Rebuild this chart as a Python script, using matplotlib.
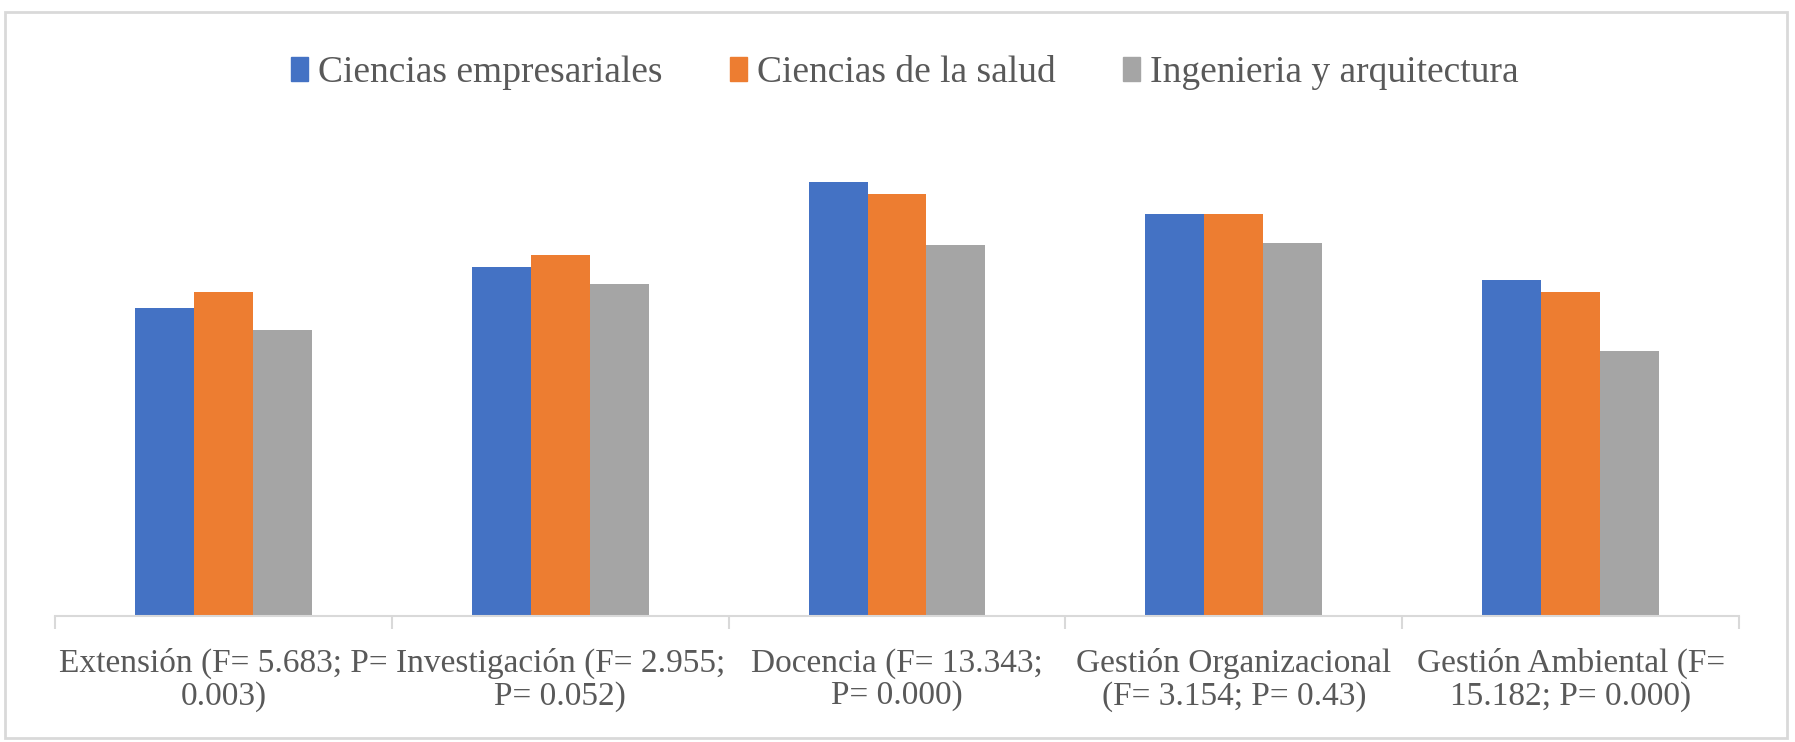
import matplotlib
matplotlib.use("Agg")
import matplotlib.pyplot as plt
import matplotlib.patches as mpatches
import numpy as np

categories = [
    "Extensión (F= 5.683; P=\n0.003)",
    "Investigación (F= 2.955;\nP= 0.052)",
    "Docencia (F= 13.343;\nP= 0.000)",
    "Gestión Organizacional\n(F= 3.154; P= 0.43)",
    "Gestión Ambiental (F=\n15.182; P= 0.000)",
]
series_names = ["Ciencias empresariales", "Ciencias de la salud", "Ingenieria y arquitectura"]
empresariales = [3.08, 3.49, 4.34, 4.02, 3.36]
salud = [3.24, 3.61, 4.22, 4.02, 3.24]
ingenieria = [2.86, 3.32, 3.71, 3.73, 2.65]
colors = ["#4472C4", "#ED7D31", "#A5A5A5"]

plt.rcParams['font.family'] = ['Liberation Serif', 'DejaVu Serif']

W, H = 1795, 742
fig = plt.figure(figsize=(W / 100, H / 100), dpi=100)
ax = fig.add_axes([55 / W, 1 - 616 / H, (1739 - 55) / W, (616 - 116) / H])

x = np.arange(len(categories))
bw = 0.175
for i, (vals, name, c) in enumerate(zip([empresariales, salud, ingenieria], series_names, colors)):
    ax.bar(x + (i - 1) * bw, vals, width=bw, color=c, label=name, zorder=2)

ax.set_xlim(-0.5, len(categories) - 0.5)
ax.set_ylim(0, 5)
for s in ["top", "right", "left"]:
    ax.spines[s].set_visible(False)
ax.spines["bottom"].set_color("#d9d9d9")
ax.spines["bottom"].set_linewidth(1.5)
ax.set_yticks([])
ax.set_xticks(x)
ax.set_xticklabels(categories, fontsize=24, color="#595959", linespacing=1.08)
ax.tick_params(axis="x", which="major", length=0, pad=23)
ax.set_xticks(np.arange(-0.5, len(categories)), minor=True)
ax.tick_params(axis="x", which="minor", length=9, width=1.5, color="#d9d9d9")

handles = [mpatches.Patch(color=c) for c in colors]
leg = fig.legend(handles, series_names, loc="center", bbox_to_anchor=(905 / W, 1 - 73 / H),
                 ncol=3, frameon=False, fontsize=27, handlelength=0.45, handleheight=0.6,
                 handletextpad=0.27, columnspacing=1.8)
for t in leg.get_texts():
    t.set_color("#595959")

border = mpatches.Rectangle((5 / W, 4 / H), (1787 - 5) / W, (730 - 4) / H,
                            transform=fig.transFigure, fill=False,
                            edgecolor="#d9d9d9", linewidth=2)
fig.patches.append(border)

fig.savefig("out.png", dpi=100)
